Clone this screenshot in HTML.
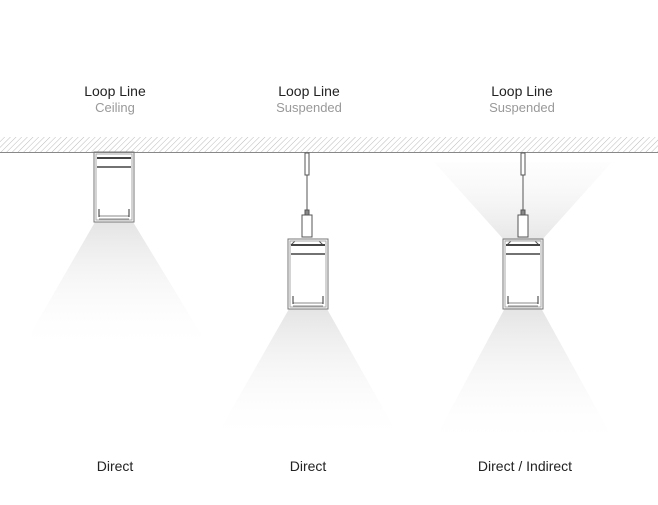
<!DOCTYPE html>
<html><head><style>
body{margin:0;width:658px;height:500px;background:#fff;overflow:hidden}
</style></head><body>
<svg width="658" height="500" xmlns="http://www.w3.org/2000/svg" font-family="Liberation Sans, sans-serif">
<defs>
<pattern id="h" width="4" height="4" patternUnits="userSpaceOnUse" patternTransform="rotate(45)">
<line x1="0" y1="0" x2="0" y2="4" stroke="#bbb" stroke-width="1"/>
</pattern>
<linearGradient id="gd" x1="0" y1="0" x2="0" y2="1">
<stop offset="0" stop-color="#e4e4e4"/><stop offset="1" stop-color="#fff" stop-opacity="0"/>
</linearGradient>
<linearGradient id="gu" x1="0" y1="1" x2="0" y2="0">
<stop offset="0" stop-color="#e6e6e6"/><stop offset="1" stop-color="#fafafa" stop-opacity="0.3"/>
</linearGradient>
<g id="fx" fill="none" stroke="#555" stroke-width="1">
<rect x="0" y="0" width="40" height="70" stroke="#777"/>
<rect x="2" y="2" width="36" height="66" stroke="#aaa"/>
<line x1="3" y1="6" x2="37" y2="6" stroke="#444" stroke-width="2"/>
<line x1="3" y1="15" x2="37" y2="15" stroke="#444" stroke-width="1.5"/>
<line x1="5" y1="64" x2="35" y2="64" stroke="#888"/>
<line x1="5" y1="67" x2="35" y2="67" stroke="#888"/>
<path d="M5 57 v8 M35 57 v8" stroke="#333"/>
</g>
<g id="hg" fill="none" stroke="#555" stroke-width="1">
<line x1="0" y1="0" x2="0" y2="57"/>
<rect x="-2" y="0" width="4" height="22" fill="#fff"/>
<rect x="-5" y="62" width="10" height="22" fill="#fff"/>
<rect x="-2" y="57" width="4" height="5" fill="#888"/>
<path d="M-16 92 l4 -4 h24 l4 4" fill="#fff"/>
</g>
</defs>
<rect x="0" y="137" width="658" height="15" fill="url(#h)"/>
<line x1="0" y1="152.5" x2="658" y2="152.5" stroke="#888" stroke-width="1"/>

<polygon points="95,222 133,222 212,352 20,352" fill="url(#gd)"/>
<polygon points="289,309 327,309 402,442 213,442" fill="url(#gd)"/>
<polygon points="505,308 541,308 618,448 430,448" fill="url(#gd)"/>
<polygon points="505,241 541,241 612,162 434,162" fill="url(#gu)"/>

<use href="#fx" x="94" y="152"/>
<use href="#hg" x="307" y="153"/>
<use href="#fx" x="288" y="239"/>
<use href="#hg" x="523" y="153"/>
<use href="#fx" x="503" y="239"/>

<g font-size="14" fill="#222" text-anchor="middle">
<text x="115" y="96">Loop Line</text>
<text x="309" y="96">Loop Line</text>
<text x="522" y="96">Loop Line</text>
</g>
<g font-size="13" fill="#999" text-anchor="middle">
<text x="115" y="112">Ceiling</text>
<text x="309" y="112">Suspended</text>
<text x="522" y="112">Suspended</text>
</g>
<g font-size="14" fill="#222" text-anchor="middle">
<text x="115" y="471">Direct</text>
<text x="308" y="471">Direct</text>
<text x="525" y="471">Direct / Indirect</text>
</g>
</svg>
</body></html>
